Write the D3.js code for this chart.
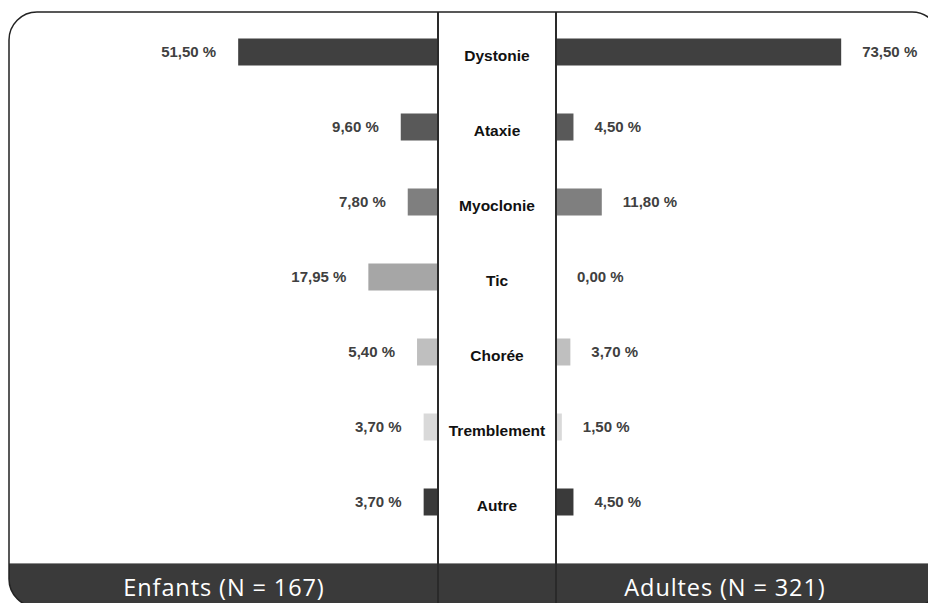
<!DOCTYPE html>
<html>
<head>
  <meta charset="UTF-8">
  <title>Mouvements anormaux</title>
  <script src="https://d3js.org/d3.v7.min.js"></script>
  <style>
    body { margin: 0; background: #fff; }
    svg { display: block; }
  </style>
</head>
<body>
  <script>
    // data
    var categories = ["Dystonie", "Ataxie", "Myoclonie", "Tic", "Chorée", "Tremblement", "Autre"];
    var enfants = [51.50, 9.60, 7.80, 17.95, 5.40, 3.70, 3.70];
    var adultes = [73.50, 4.50, 11.80, 0.00, 3.70, 1.50, 4.50];
    var barColors = ["#404040", "#595959", "#7f7f7f", "#a6a6a6", "#bfbfbf", "#d9d9d9", "#3a3a3a"];
    var groupLabels = ["Enfants (N = 167)", "Adultes (N = 321)"];

    var W = 928, H = 603;
    var leftEdge = 438, rightEdge = 556;
    var frame = { x: 9, y: 12, w: 931, h: 595, r: 28 };
    var bandTop = 563;
    var barH = 27;

    var svg = d3.select("body").append("svg")
      .attr("width", W)
      .attr("height", H);

    svg.append("defs").append("clipPath")
      .attr("id", "frameClip")
      .append("rect")
      .attr("x", frame.x).attr("y", frame.y)
      .attr("width", frame.w).attr("height", frame.h)
      .attr("rx", frame.r).attr("ry", frame.r);

    var g = svg.append("g").attr("clip-path", "url(#frameClip)");

    var xScale = d3.scaleLinear().domain([0, 100]).range([0, 388]);
    var yScale = d3.scalePoint().domain(categories).range([14.5, 539.5]).padding(0.5);

    var rows = categories.map(function (c, i) {
      return { cat: c, left: enfants[i], right: adultes[i], color: barColors[i] };
    });

    // bottom band
    g.append("rect")
      .attr("x", 0).attr("y", bandTop)
      .attr("width", W + 20).attr("height", 60)
      .attr("fill", "#3a3a3a");
    g.append("line")
      .attr("x1", 0).attr("x2", W + 20)
      .attr("y1", bandTop + 0.5).attr("y2", bandTop + 0.5)
      .attr("stroke", "#8a8a8a").attr("stroke-width", 1);

    // bars
    g.selectAll(".barL").data(rows).enter().append("rect")
      .attr("class", "barL")
      .attr("x", function (d) { return leftEdge - xScale(d.left); })
      .attr("y", function (d) { return yScale(d.cat) - barH / 2; })
      .attr("width", function (d) { return xScale(d.left); })
      .attr("height", barH)
      .attr("fill", function (d) { return d.color; });

    g.selectAll(".barR").data(rows).enter().append("rect")
      .attr("class", "barR")
      .attr("x", rightEdge)
      .attr("y", function (d) { return yScale(d.cat) - barH / 2; })
      .attr("width", function (d) { return xScale(d.right); })
      .attr("height", barH)
      .attr("fill", function (d) { return d.color; });

    function fmt(v) { return v.toFixed(2).replace(".", ",") + " %"; }

    var valFont = "'Liberation Sans', Arial, sans-serif";

    g.selectAll(".valL").data(rows).enter().append("text")
      .attr("class", "valL")
      .attr("x", function (d) { return leftEdge - xScale(d.left) - 22; })
      .attr("y", function (d) { return yScale(d.cat); })
      .attr("dy", "0.36em")
      .attr("text-anchor", "end")
      .style("font-family", valFont)
      .style("font-weight", "bold")
      .style("font-size", "15px")
      .attr("fill", "#404040")
      .text(function (d) { return fmt(d.left); });

    g.selectAll(".valR").data(rows).enter().append("text")
      .attr("class", "valR")
      .attr("x", function (d) { return rightEdge + xScale(d.right) + 21; })
      .attr("y", function (d) { return yScale(d.cat); })
      .attr("dy", "0.36em")
      .attr("text-anchor", "start")
      .style("font-family", valFont)
      .style("font-weight", "bold")
      .style("font-size", "15px")
      .attr("fill", "#404040")
      .text(function (d) { return fmt(d.right); });

    // category names in the middle column
    g.selectAll(".cat").data(rows).enter().append("text")
      .attr("class", "cat")
      .attr("x", (leftEdge + rightEdge) / 2)
      .attr("y", function (d) { return yScale(d.cat) + 3; })
      .attr("dy", "0.36em")
      .attr("text-anchor", "middle")
      .style("font-family", valFont)
      .style("font-weight", "bold")
      .style("font-size", "15.5px")
      .attr("fill", "#111")
      .text(function (d) { return d.cat; });

    // column dividers
    [leftEdge, rightEdge].forEach(function (x) {
      g.append("line")
        .attr("x1", x).attr("x2", x)
        .attr("y1", frame.y).attr("y2", H)
        .attr("stroke", "#2a2a2a").attr("stroke-width", 2);
    });

    // group labels in the band
    g.selectAll(".grp").data(groupLabels).enter().append("text")
      .attr("class", "grp")
      .attr("x", function (d, i) { return i === 0 ? 224 : 725; })
      .attr("y", 596)
      .attr("text-anchor", "middle")
      .style("font-family", "'Open Sans', sans-serif")
      .style("font-size", "23.5px")
      .style("font-weight", "500")
      .style("letter-spacing", "0.9px")
      .attr("fill", "#fff")
      .text(function (d) { return d; });

    // frame outline
    svg.append("rect")
      .attr("x", frame.x).attr("y", frame.y)
      .attr("width", frame.w).attr("height", frame.h)
      .attr("rx", frame.r).attr("ry", frame.r)
      .attr("fill", "none")
      .attr("stroke", "#222")
      .attr("stroke-width", 1.5);
  </script>
</body>
</html>
